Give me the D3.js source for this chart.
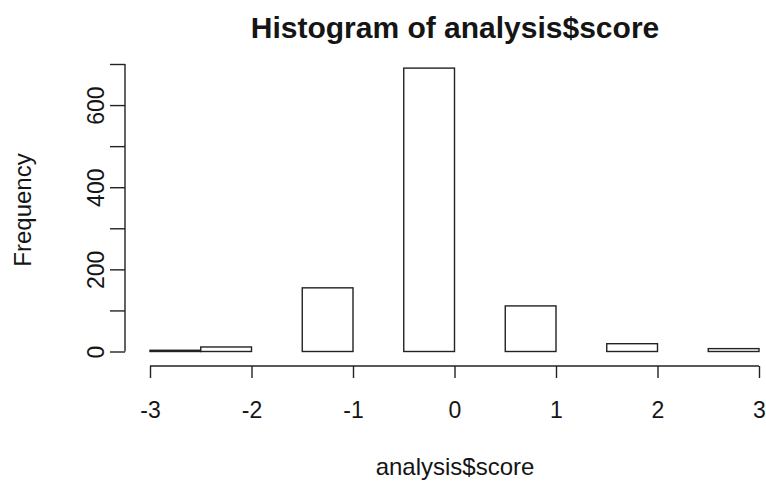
<!DOCTYPE html>
<html>
<head>
<meta charset="utf-8">
<script src="https://cdn.jsdelivr.net/npm/d3@7"></script>
<style>
  html, body { margin: 0; padding: 0; background: #fff; }
  svg { display: block; font-family: "Liberation Sans", Arial, sans-serif; }
</style>
</head>
<body>
<svg id="chart" width="766" height="482"></svg>
<script>
// Histogram bins (width 0.5) and their counts
const binStarts = [-3, -2.5, -2, -1.5, -1, -0.5, 0, 0.5, 1, 1.5, 2, 2.5];
const binWidth = 0.5;
const counts = [3, 11, 0, 155, 0, 690, 0, 111, 0, 19, 0, 7];
const xTicks = [-3, -2, -1, 0, 1, 2, 3];
const yTicks = [0, 100, 200, 300, 400, 500, 600, 700];
const yTickLabels = [0, 200, 400, 600];

const svg = d3.select("#chart");

const x = d3.scaleLinear().domain([-3, 3]).range([150, 759]);
const y = d3.scaleLinear().domain([0, 700]).range([351.5, 64]);

const ink = "#222";
const textInk = "#151515";
const fontFamily = "Liberation Sans, Arial, sans-serif";

// bars
svg.append("g")
  .selectAll("rect")
  .data(binStarts.map((s, i) => ({ s, c: counts[i] })))
  .join("rect")
  .attr("x", d => x(d.s))
  .attr("width", d => x(d.s + binWidth) - x(d.s))
  .attr("y", d => y(d.c))
  .attr("height", d => y(0) - y(d.c))
  .attr("fill", "#fff")
  .attr("stroke", ink)
  .attr("stroke-width", 1.4);

// x axis
const xAxis = d3.axisBottom(x).tickValues(xTicks).tickSize(12).tickPadding(0)
  .tickFormat(d3.format("d"));
const gx = svg.append("g").attr("transform", "translate(0,366)").call(xAxis);
gx.select(".domain").attr("d", `M${x(-3)},0H${x(3)}`).attr("stroke", ink).attr("stroke-width", 1.4);
gx.selectAll(".tick line").attr("stroke", ink).attr("stroke-width", 1.4);
gx.selectAll(".tick text")
  .attr("font-size", 23).attr("fill", textInk)
  .attr("font-family", fontFamily)
  .attr("y", 52).attr("dy", null)
  .text(d => d < 0 ? "-" + Math.abs(d) : d);

// y axis
const yAxis = d3.axisLeft(y).tickValues(yTicks).tickSize(15).tickPadding(0)
  .tickFormat(d => yTickLabels.includes(d) ? String(d) : "");
const gy = svg.append("g").attr("transform", "translate(125,0)").call(yAxis);
gy.select(".domain").attr("d", `M0,${y(0)}V${y(700)}`).attr("stroke", ink).attr("stroke-width", 1.4);
gy.selectAll(".tick line").attr("stroke", ink).attr("stroke-width", 1.4);
gy.selectAll(".tick text")
  .attr("font-size", 23).attr("fill", textInk)
  .attr("font-family", fontFamily)
  .attr("x", null).attr("dy", null)
  .attr("text-anchor", "middle")
  .attr("transform", "translate(-21,0) rotate(-90)");

// title
svg.append("text")
  .attr("x", 455).attr("y", 38)
  .attr("text-anchor", "middle")
  .attr("font-size", 30).attr("font-weight", "bold").attr("fill", textInk)
  .attr("font-family", fontFamily)
  .text("Histogram of analysis$score");

// x label
svg.append("text")
  .attr("x", 455).attr("y", 475)
  .attr("text-anchor", "middle")
  .attr("font-size", 24).attr("fill", textInk)
  .attr("font-family", fontFamily)
  .text("analysis$score");

// y label
svg.append("text")
  .attr("transform", "translate(31,210) rotate(-90)")
  .attr("text-anchor", "middle")
  .attr("font-size", 24).attr("fill", textInk)
  .attr("font-family", fontFamily)
  .text("Frequency");
</script>
</body>
</html>
